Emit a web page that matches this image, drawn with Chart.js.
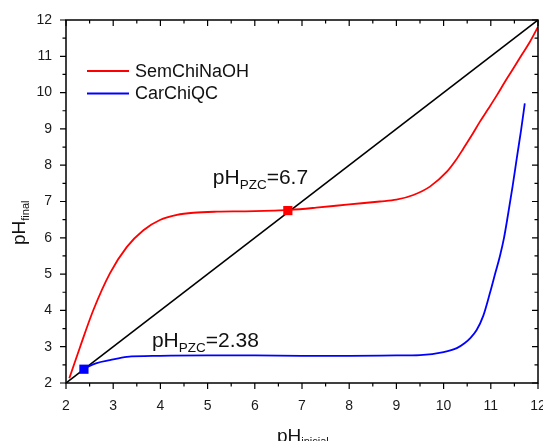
<!DOCTYPE html>
<html>
<head>
<meta charset="utf-8">
<script src="https://cdn.jsdelivr.net/npm/chart.js@4"></script>
<style>
  html, body { margin: 0; padding: 0; background: #fff; overflow: hidden; }
  #wrap { width: 543px; height: 441px; overflow: hidden; }
</style>
</head>
<body>
<div id="wrap"><canvas id="phChart" width="553" height="441"></canvas></div>
<script>
// pH drift curves (initial pH vs final pH)
const xTicks = [2, 3, 4, 5, 6, 7, 8, 9, 10, 11, 12];
const yTicks = [2, 3, 4, 5, 6, 7, 8, 9, 10, 11, 12];

const semX = [2.07, 2.3, 2.58, 2.93, 3.29, 3.64, 3.99, 4.35, 4.7, 5.2, 5.8, 6.4, 6.75, 7.3, 8.0, 8.65, 9.0, 9.36, 9.71, 10.07, 10.25, 10.42, 10.6, 10.77, 10.95, 11.13, 11.3, 11.48, 11.65, 11.83, 12.0];
const semY = [2.13, 3.0, 4.01, 5.02, 5.75, 6.21, 6.49, 6.63, 6.69, 6.72, 6.73, 6.75, 6.77, 6.83, 6.92, 7.0, 7.05, 7.18, 7.41, 7.82, 8.12, 8.46, 8.83, 9.2, 9.56, 9.93, 10.3, 10.67, 11.03, 11.4, 11.81];

const carX = [2.38, 2.65, 2.93, 3.29, 3.99, 5, 6, 7, 8, 9, 9.5, 10.0, 10.28, 10.45, 10.56, 10.7, 10.84, 10.98, 11.1, 11.19, 11.28, 11.36, 11.46, 11.55, 11.64, 11.72];
const carY = [2.40, 2.55, 2.63, 2.72, 2.75, 2.76, 2.76, 2.75, 2.75, 2.76, 2.77, 2.85, 2.96, 3.1, 3.23, 3.46, 3.85, 4.47, 5.05, 5.48, 6.0, 6.6, 7.4, 8.19, 8.95, 9.7];

const diagX = [2, 12];
const diagY = [2, 12];

// point of zero charge for each material
const pzcSem = 6.7;
const pzcSemY = 6.75;
const pzcCar = 2.38;
const pzcCarY = 2.38;

const FONT = '"Liberation Sans", Arial, sans-serif';

function pts(xs, ys) {
    return xs.map((x, i) => ({ x: x, y: ys[i] }));
}

// frame, tick marks, axis titles, legend and PZC labels
const decorPlugin = {
    id: 'decor',
    afterDraw(chart) {
        const ctx = chart.ctx;
        const a = chart.chartArea;
        const xs = chart.scales.x;
        const ys = chart.scales.y;
        ctx.save();

        // frame
        ctx.strokeStyle = '#000';
        ctx.lineWidth = 1.5;
        ctx.strokeRect(a.left, a.top, a.right - a.left, a.bottom - a.top);

        // ticks: outward on bottom/left, inward on top/right
        ctx.lineWidth = 1.2;
        ctx.beginPath();
        for (let v = 2; v <= 12.001; v += 0.5) {
            const major = Math.abs(v - Math.round(v)) < 0.01;
            const len = major ? 6 : 3.5;
            const px = xs.getPixelForValue(v);
            ctx.moveTo(px, a.bottom); ctx.lineTo(px, a.bottom + len);
            ctx.moveTo(px, a.top); ctx.lineTo(px, a.top + len);
            const py = ys.getPixelForValue(v);
            ctx.moveTo(a.left, py); ctx.lineTo(a.left - len, py);
            ctx.moveTo(a.right, py); ctx.lineTo(a.right - len, py);
        }
        ctx.stroke();

        ctx.fillStyle = '#111';
        ctx.textAlign = 'left';
        ctx.textBaseline = 'alphabetic';

        // text with a subscript part
        function subText(main, sub, x, y, size, subSize, drop) {
            ctx.font = size + 'px ' + FONT;
            ctx.fillText(main, x, y);
            const w = ctx.measureText(main).width;
            ctx.font = subSize + 'px ' + FONT;
            ctx.fillText(sub, x + w, y + drop);
            return x + w + ctx.measureText(sub).width;
        }

        // x axis title
        subText('pH', 'inicial', 277, 442, 19, 11, 3);

        // y axis title
        ctx.save();
        ctx.translate(25, 245);
        ctx.rotate(-Math.PI / 2);
        subText('pH', 'final', 0, 0, 19, 11, 4);
        ctx.restore();

        // PZC labels
        let end = subText('pH', 'PZC', xs.getPixelForValue(5.11), ys.getPixelForValue(7.48), 21, 13.5, 5);
        ctx.font = '21px ' + FONT;
        ctx.fillText('=' + pzcSem, end, ys.getPixelForValue(7.48));
        end = subText('pH', 'PZC', xs.getPixelForValue(3.82), ys.getPixelForValue(2.99), 21, 13.5, 5);
        ctx.font = '21px ' + FONT;
        ctx.fillText('=' + pzcCar, end, ys.getPixelForValue(2.99));

        // legend
        const items = chart.data.datasets.filter(d => d.inLegend);
        items.forEach((d, i) => {
            const ly = a.top + 51 + i * 22.5;
            ctx.strokeStyle = d.borderColor;
            ctx.lineWidth = 1.8;
            ctx.beginPath();
            ctx.moveTo(a.left + 21, ly);
            ctx.lineTo(a.left + 63, ly);
            ctx.stroke();
            ctx.fillStyle = '#111';
            ctx.font = '18px ' + FONT;
            ctx.textBaseline = 'middle';
            ctx.fillText(d.label, a.left + 69, ly + 1);
        });
        ctx.restore();
    }
};

new Chart(document.getElementById('phChart'), {
    type: 'scatter',
    data: {
        datasets: [
            {
                label: 'pzc-sem',
                data: [{ x: pzcSem, y: pzcSemY }],
                backgroundColor: '#ff0000',
                pointStyle: 'rect',
                pointRadius: 6.5,
                borderWidth: 0,
                order: 0
            },
            {
                label: 'pzc-car',
                data: [{ x: pzcCar, y: pzcCarY }],
                backgroundColor: '#0000ff',
                pointStyle: 'rect',
                pointRadius: 6.5,
                borderWidth: 0,
                order: 0
            },
            {
                label: 'SemChiNaOH',
                inLegend: true,
                data: pts(semX, semY),
                showLine: true,
                borderColor: '#ff0000',
                borderWidth: 1.8,
                pointRadius: 0,
                cubicInterpolationMode: 'monotone',
                order: 1
            },
            {
                label: 'CarChiQC',
                inLegend: true,
                data: pts(carX, carY),
                showLine: true,
                borderColor: '#0000ff',
                borderWidth: 1.8,
                pointRadius: 0,
                cubicInterpolationMode: 'monotone',
                order: 1
            },
            {
                label: 'diagonal',
                data: pts(diagX, diagY),
                showLine: true,
                borderColor: '#000',
                borderWidth: 1.6,
                pointRadius: 0,
                order: 2
            }
        ]
    },
    options: {
        responsive: false,
        animation: false,
        events: [],
        layout: { padding: { left: 0, right: 15, top: 20, bottom: 0 } },
        plugins: {
            legend: { display: false },
            tooltip: { enabled: false }
        },
        scales: {
            x: {
                type: 'linear',
                min: 2,
                max: 12,
                afterBuildTicks: s => { s.ticks = xTicks.map(v => ({ value: v })); },
                afterFit: s => { s.height = 58; },
                grid: { display: false },
                border: { display: false },
                ticks: {
                    color: '#1a1a1a',
                    padding: 7,
                    maxRotation: 0,
                    font: { family: FONT, size: 14 }
                }
            },
            y: {
                type: 'linear',
                min: 2,
                max: 12,
                afterBuildTicks: s => { s.ticks = yTicks.map(v => ({ value: v })); },
                afterFit: s => { s.width = 66; },
                grid: { display: false },
                border: { display: false },
                ticks: {
                    color: '#1a1a1a',
                    padding: 6,
                    font: { family: FONT, size: 14 }
                }
            }
        }
    },
    plugins: [decorPlugin]
});
</script>
</body>
</html>
